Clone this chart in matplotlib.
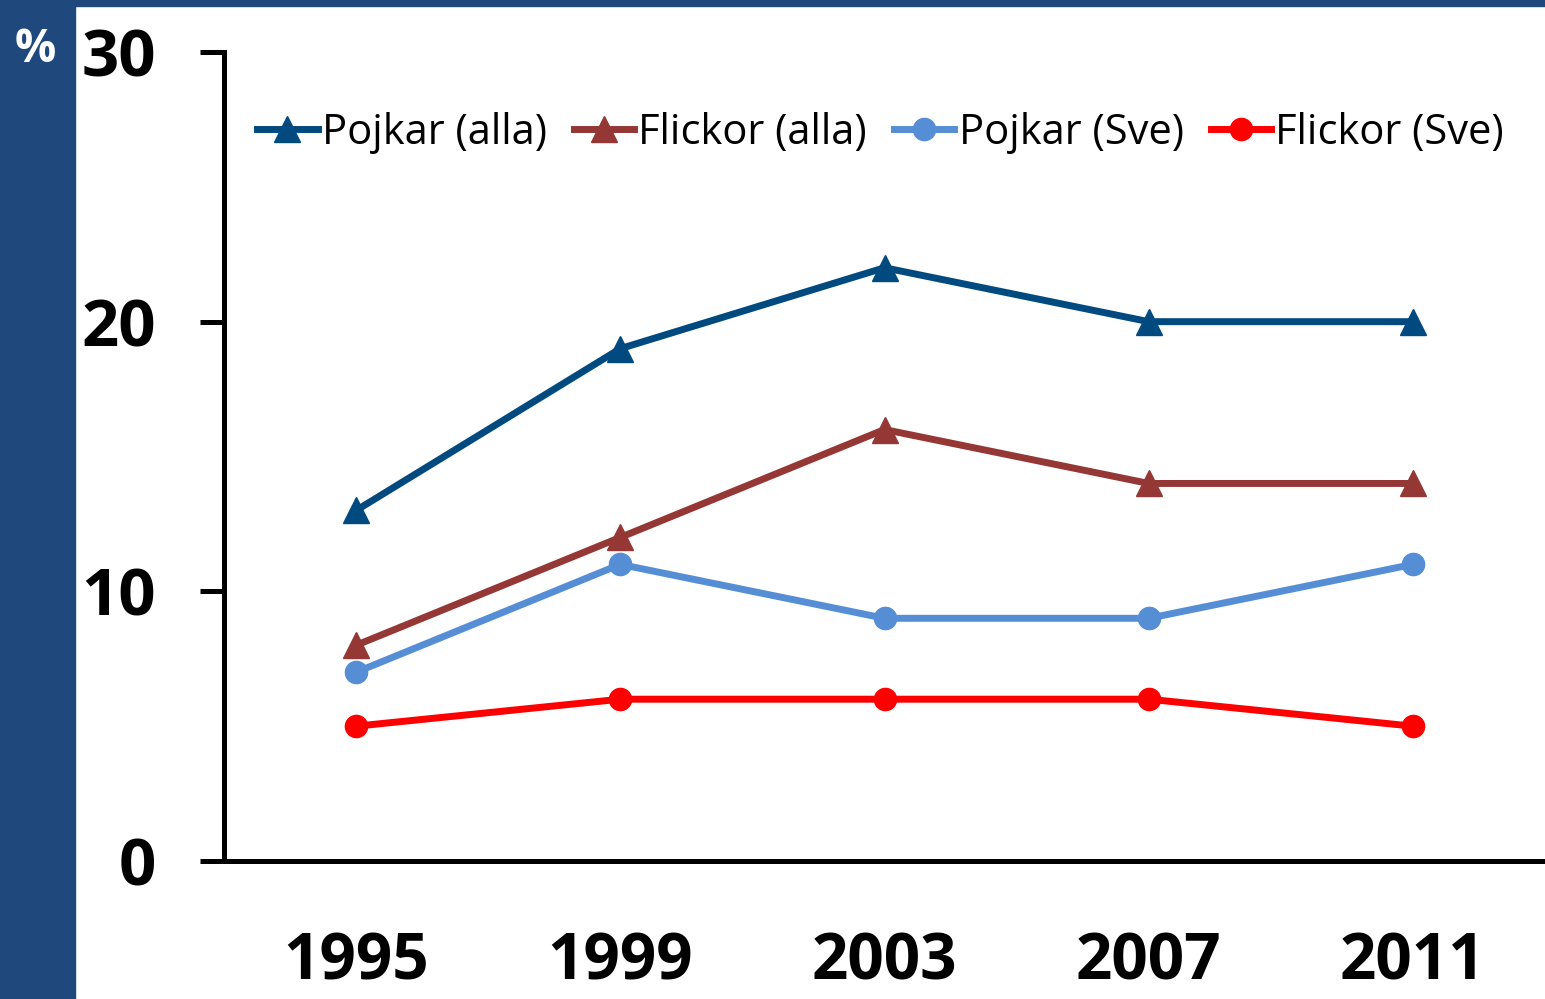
import matplotlib
matplotlib.use("Agg")
import matplotlib.pyplot as plt
from matplotlib.patches import Rectangle

plt.rcParams['font.family'] = ['Open Sans', 'DejaVu Sans']

years = ['1995', '1999', '2003', '2007', '2011']
pojkar_alla = [13, 19, 22, 20, 20]
flickor_alla = [8, 12, 16, 14, 14]
pojkar_sve = [7, 11, 9, 9, 11]
flickor_sve = [5, 6, 6, 6, 5]

fig = plt.figure(figsize=(15.45, 9.99), dpi=100)

# blå ram till vänster och upptill
fig.patches.append(Rectangle((0, 0), 75 / 1545, 1, transform=fig.transFigure, color='#1F497D', zorder=0))
fig.patches.append(Rectangle((0, 1 - 6 / 999), 1, 6 / 999, transform=fig.transFigure, color='#1F497D', zorder=0))
fig.text(35 / 1545, 1 - 50 / 999, '%', color='white', fontsize=33, fontweight='bold', ha='center', va='center')

ax = fig.add_axes([224 / 1545, 1 - 861 / 999, 1 - 224 / 1545, (861 - 52) / 999])
x = range(len(years))

ax.plot(x, pojkar_alla, color='#004A80', lw=5, marker='^', ms=19, label='Pojkar (alla)')
ax.plot(x, flickor_alla, color='#953735', lw=5, marker='^', ms=19, label='Flickor (alla)')
ax.plot(x, pojkar_sve, color='#558ED5', lw=5, marker='o', ms=16, label='Pojkar (Sve)')
ax.plot(x, flickor_sve, color='#FF0000', lw=5, marker='o', ms=16, label='Flickor (Sve)')

ax.set_xlim(-0.5, 4.5)
ax.set_ylim(0, 30)
ax.set_yticks([0, 10, 20, 30])
ax.set_xticks(list(x))
ax.set_xticklabels(years)

for s in ['top', 'right']:
    ax.spines[s].set_visible(False)
for s in ['left', 'bottom']:
    ax.spines[s].set_linewidth(3.6)
    ax.spines[s].set_color('black')

ax.tick_params(axis='y', length=17, width=3.6, pad=32, labelsize=47)
ax.tick_params(axis='x', length=0, pad=50, labelsize=46)
for lab in ax.get_xticklabels() + ax.get_yticklabels():
    lab.set_fontweight('bold')

ax.legend(loc='center', bbox_to_anchor=(0.497, 0.9), ncol=4, frameon=False,
          fontsize=30, handlelength=1.45, handletextpad=0.1, columnspacing=0.65)

fig.savefig('out.png', dpi=100)
